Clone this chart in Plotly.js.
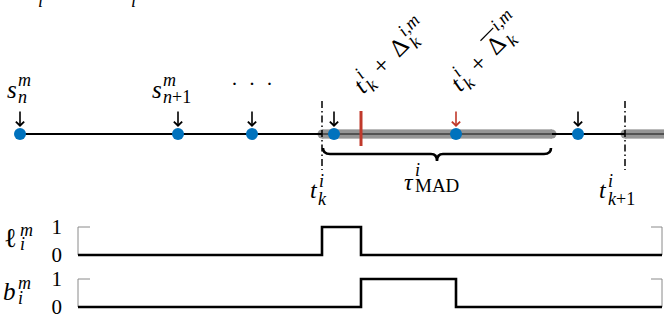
<!DOCTYPE html>
<html>
<head>
<meta charset="utf-8">
<script src="https://cdn.plot.ly/plotly-3.0.1.min.js"></script>
<style>html,body{margin:0;padding:0;background:#fff;}#chart{width:664px;height:320px;}</style>
</head>
<body>
<div id="chart"></div>
<script>
// ---------------- data (time axis in drawing units) ----------------
const sampleTimes = [20, 178, 252, 334, 456, 578];      // s_n^m, s_{n+1}^m, ...
const arrowTimes = [20, 178, 252, 334, 578];            // black arrows
const highlightArrowTimes = [456];                       // red arrow (t_k^i + Δ̄)
const boundaryTimes = [322, 625];                        // t_k^i , t_{k+1}^i
const deltaTime = 361;                                   // t_k^i + Δ_k^{i,m}
const madWindows = [[322, 552], [625, 720]];             // τ_MAD windows
const timelineRange = [20, 664];
const ellTimes = [78, 322, 361, 662];
const ellValues = [0, 1, 0, 0];
const bTimes = [78, 361, 456, 662];
const bValues = [0, 1, 0, 0];
const signalTicks = [0, 1];
const signalTickText = ['0', '1'];

// ---------------- style ----------------
const W = 664, H = 320;
const FONT = 'Liberation Serif, DejaVu Serif, serif';
const BLUE = '#0072BD', RED = '#C0392B', GRAY = '#959595';
const Y0 = 134;                    // timeline level

const ctx = document.createElement('canvas').getContext('2d');
function measure(txt, size, italic) {
  ctx.font = (italic ? 'italic ' : '') + size + 'px ' + FONT;
  return ctx.measureText(txt).width;
}
const annotations = [], shapes = [];
function mathLabel(tokens, px, py, angle, F, S) {
  F = F || 24; S = S || 18;
  const th = angle * Math.PI / 180;
  const d = [Math.cos(th), -Math.sin(th)];
  const n = [-Math.sin(th), -Math.cos(th)];
  const at = (u, v) => [px + u * d[0] + v * n[0], py + u * d[1] + v * n[1]];
  const put = (html, size, italic, uc, v) => {
    const p = at(uc, v);
    annotations.push({x: p[0], y: p[1], xref: 'x', yref: 'y',
      text: italic ? '<i>' + html + '</i>' : html, showarrow: false,
      xanchor: 'center', yanchor: 'middle', textangle: -angle,
      font: {family: FONT, size: size, color: '#000'}, borderpad: 0, borderwidth: 0});
  };
  let u = 0;
  tokens.forEach(tok => {
    if (tok.gap) { u += tok.gap; return; }
    if (tok.t !== undefined) {
      const it = tok.it !== false;
      const fs = tok.size || F;
      const w = measure(tok.t, fs, it);
      put(tok.html || tok.t, fs, it, u + w / 2, tok.v || 0);
      if (tok.over) {
        const ov = tok.overV || 13;
        const a = at(u, ov), b = at(u + w + 2, ov);
        shapes.push({type: 'line', xref: 'x', yref: 'y', x0: a[0], y0: a[1], x1: b[0], y1: b[1],
          line: {color: '#000', width: 1.2}});
      }
      u += w;
    } else {
      const supIt = tok.supIt !== false, subIt = tok.subIt !== false;
      const ss = tok.subSize || S;
      const ws = tok.sup ? measure(tok.sup, S, supIt) : 0;
      const wb = tok.sub ? measure(tok.sub, ss, subIt) : 0;
      const x0 = u + 1;
      if (tok.sup) put(tok.supHtml || tok.sup, S, supIt, x0 + ws / 2, tok.supV ?? 9);
      if (tok.sub) put(tok.subHtml || tok.sub, ss, subIt, x0 + wb / 2, tok.subV ?? -8);
      u = x0 + Math.max(ws, wb) + 1;
    }
  });
}

// ---------------- labels ----------------
mathLabel([{t: 's', size: 25}, {sup: 'm', sub: 'n'}], 7, 89, 0);
mathLabel([{t: 's', size: 25}, {sup: 'm', sub: 'n+1', subIt: false, subHtml: '<i>n</i>+1'}], 152, 89, 0);
annotations.push({x: 252, y: 84, xref: 'x', yref: 'y', text: '·  ·  ·', showarrow: false,
  font: {family: FONT, size: 21, color: '#000'}});
mathLabel([{t: 't'}, {sup: 'i', sub: 'k', subV: -9}], 311, 190, 0);
mathLabel([{t: 'τ'}, {sup: 'i', sub: 'MAD', subIt: false, subSize: 19, supV: 12, subV: -3}], 405, 182, 0);
mathLabel([{t: 't'}, {sup: 'i', sub: 'k+1', subIt: false, subHtml: '<i>k</i>+1', subV: -9}], 600, 190, 0);
mathLabel([{t: 'ℓ', it: false, size: 27}, {gap: 2}, {sup: 'm', sub: 'i', supV: 8, subV: -6}], 4, 238, 0);
mathLabel([{t: 'b', size: 25}, {gap: 1}, {sup: 'm', sub: 'i', supV: 8, subV: -7}], 3, 291, 0);
mathLabel([{t: 't'}, {sup: 'i', sub: 'k'}, {gap: 8}, {t: '+', it: false}, {gap: 11},
  {t: 'Δ', it: false}, {gap: 2}, {sup: 'i,m', sub: 'k'}], 358, 88, 45, 25, 18);
mathLabel([{t: 't'}, {sup: 'i', sub: 'k'}, {gap: 8}, {t: '+', it: false}, {gap: 11},
  {t: 'Δ', it: false, over: true, overV: 14}, {gap: 2}, {sup: 'i,m', sub: 'k', supV: 14}], 455, 86, 45, 25, 18);
// cropped fragments at the top edge
[40, 133].forEach(px => annotations.push({x: px / W, y: 1 - 1 / H, xref: 'paper', yref: 'paper',
  xanchor: 'center', yanchor: 'middle', text: '<i>i</i>', showarrow: false,
  font: {family: FONT, size: 18, color: '#000'}}));

// ---------------- arrows ----------------
arrowTimes.concat(highlightArrowTimes).forEach(t => {
  const c = highlightArrowTimes.includes(t) ? RED : '#000';
  annotations.push({x: t, y: Y0 - 7, xref: 'x', yref: 'y', ax: 0, ay: -17, text: '',
    showarrow: true, arrowhead: 4, arrowsize: 1, arrowwidth: 1.6, arrowcolor: c, standoff: 0});
});

// ---------------- brace ----------------
(function () {
  const b0 = madWindows[0][0] + 1, b1 = madWindows[0][1] - 1, bm = (b0 + b1) / 2;
  const by = 154, top = 148, tip = 161;
  shapes.push({type: 'path', xref: 'x', yref: 'y', line: {color: '#000', width: 2.6},
    path: `M ${b0},${top} Q ${b0},${by} ${b0 + 7},${by} L ${bm - 6},${by} Q ${bm},${by} ${bm},${tip} ` +
          `Q ${bm},${by} ${bm + 6},${by} L ${b1 - 7},${by} Q ${b1},${by} ${b1},${top}`});
})();

// ---------------- signal brackets ----------------
['y2', 'y3'].forEach(yr => {
  const s0 = ellTimes[0], s1 = ellTimes[ellTimes.length - 1];
  shapes.push({type: 'path', xref: 'x', yref: yr, layer: 'below', line: {color: '#8a8a8a', width: 1},
    path: `M ${s0 + 12},1 L ${s0},1 L ${s0},0`});
  shapes.push({type: 'path', xref: 'x', yref: yr, layer: 'below', line: {color: '#8a8a8a', width: 1},
    path: `M ${s1 - 11},1 L ${s1},1 L ${s1},0`});
});

// ---------------- traces ----------------
const bandX = [];
madWindows.forEach((w, i) => { if (i) bandX.push(null); bandX.push(w[0], w[1]); });
const bandY = bandX.map(v => v === null ? null : Y0);

const traces = [
  {x: bandX, y: bandY, mode: 'lines+markers', line: {color: GRAY, width: 9},
   marker: {color: GRAY, size: 9}, hoverinfo: 'skip'},
  {x: timelineRange, y: [Y0, Y0], mode: 'lines', line: {color: '#000', width: 1.8}, hoverinfo: 'skip'},
  {x: bandX, y: bandY, mode: 'lines', line: {color: 'rgba(149,149,149,0.55)', width: 9}, hoverinfo: 'skip'},
  {x: [boundaryTimes[0], boundaryTimes[0], null, boundaryTimes[1], boundaryTimes[1]],
   y: [101, 170, null, 101, 170], mode: 'lines',
   line: {color: '#000', width: 1.5, dash: '7px,3px,1.5px,3px'}, hoverinfo: 'skip'},
  {x: [deltaTime, deltaTime], y: [111, 146], mode: 'lines', line: {color: RED, width: 3}, hoverinfo: 'skip'},
  {x: sampleTimes, y: sampleTimes.map(() => Y0), mode: 'markers',
   marker: {color: BLUE, size: 12}, hoverinfo: 'skip'},
  {x: ellTimes, y: ellValues, yaxis: 'y2', mode: 'lines', line: {color: '#000', width: 2.6, shape: 'hv'}, hoverinfo: 'skip'},
  {x: bTimes, y: bValues, yaxis: 'y3', mode: 'lines', line: {color: '#000', width: 2.6, shape: 'hv'}, hoverinfo: 'skip'}
];

function rowDomain(top, bottom) {
  const pad = (bottom - top) * 0.1;
  return [(H - (bottom + pad)) / H, (H - (top - pad)) / H];
}
const sigAxis = (dom) => ({domain: dom, range: [-0.1, 1.1], anchor: 'free', position: 78 / W,
  showline: false, showgrid: false, zeroline: false, ticks: '', tickvals: signalTicks,
  ticktext: signalTickText, tickfont: {family: FONT, size: 21, color: '#000'},
  ticklabelstandoff: 16, fixedrange: true});

const layout = {
  width: W, height: H, margin: {l: 0, r: 0, t: 0, b: 0, pad: 0},
  paper_bgcolor: '#fff', plot_bgcolor: 'rgba(0,0,0,0)', showlegend: false,
  xaxis: {range: [0, W], visible: false, domain: [0, 1], fixedrange: true},
  yaxis: {range: [H, 0], visible: false, domain: [0, 1], fixedrange: true},
  yaxis2: sigAxis(rowDomain(227, 255)),
  yaxis3: sigAxis(rowDomain(279, 307)),
  annotations: annotations, shapes: shapes
};
Plotly.newPlot('chart', traces, layout, {staticPlot: true, displayModeBar: false});
</script>
</body>
</html>
